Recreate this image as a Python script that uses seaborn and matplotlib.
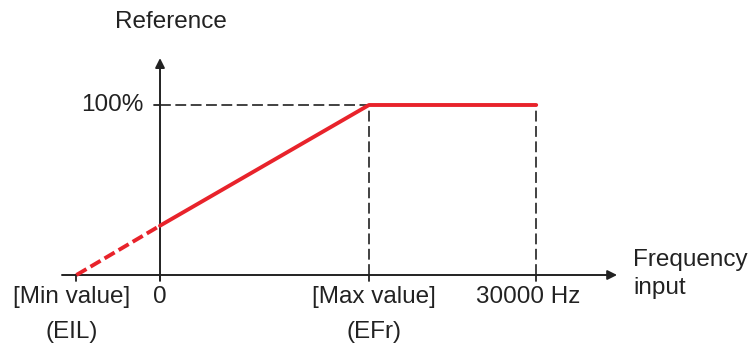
import numpy as np
import pandas as pd
import matplotlib.pyplot as plt
import seaborn as sns

# Reference curve (x in units of [Max value], y in %)
ramp_x = [-0.4, 0.0]
ramp_y = [0.0, 29.0]
curve_x = [0.0, 1.0, 1.8]
curve_y = [29.0, 100.0, 100.0]

tick_pos = [-0.4, 0.0, 1.0, 1.8]
tick_top = ['[Min value]', '0', '[Max value]', '30000 Hz']
tick_bottom = ['(EIL)', '', '(EFr)', '']
tick_shift = [-0.021, 0.0, 0.024, -0.039]

sns.set_style('white')
plt.rcParams['font.family'] = ['Liberation Sans', 'DejaVu Sans']

fig = plt.figure(figsize=(7.52, 3.43), dpi=100)
ax = fig.add_axes([0, 0, 1, 1])
ax.set_xlim(-0.7656, 2.8325)
ax.set_ylim(-40, 161.76)
ax.axis('off')

red = '#e8232b'
ramp = pd.DataFrame({'x': ramp_x, 'y': ramp_y})
curve = pd.DataFrame({'x': curve_x, 'y': curve_y})
sns.lineplot(data=ramp, x='x', y='y', ax=ax, color=red, lw=2.8,
             linestyle=(0, (3, 1.2)), zorder=4)
sns.lineplot(data=curve, x='x', y='y', ax=ax, color=red, lw=2.8, zorder=4)

# dashed guide lines
dash = dict(color='#333333', lw=1.3, linestyle=(0, (6, 2.5)), zorder=2)
ax.plot([0, 1], [100, 100], **dash)
ax.plot([1, 1], [0, 100], **dash)
ax.plot([1.8, 1.8], [0, 100], **dash)

# axes with arrows
arrow = dict(arrowstyle='-|>', color='#222222', lw=1.4, mutation_scale=14,
             shrinkA=0, shrinkB=0)
ax.annotate('', xy=(2.187, 0), xytext=(-0.469, 0), arrowprops=arrow)
ax.annotate('', xy=(0, 127.6), xytext=(0, -3), arrowprops=arrow)

# tick marks
for p in tick_pos:
    ax.plot([p, p], [0, -3.5], color='#222222', lw=1.3)
ax.plot([-0.03, 0], [100, 100], color='#222222', lw=1.3)

fs = 17.5
ax.text(0.053, 148.8, 'Reference', ha='center', va='center', fontsize=fs, color='#222222')
ax.text(-0.081, 100, '100%', ha='right', va='center', fontsize=fs, color='#222222')
for p, t, b, s in zip(tick_pos, tick_top, tick_bottom, tick_shift):
    ax.text(p + s, -13.2, t, ha='center', va='center', fontsize=fs, color='#222222')
    if b:
        ax.text(p + s, -33.5, b, ha='center', va='center', fontsize=fs, color='#222222')
ax.text(2.263, 8.8, 'Frequency', ha='left', va='center', fontsize=fs, color='#222222')
ax.text(2.263, -7.6, 'input', ha='left', va='center', fontsize=fs, color='#222222')

fig.savefig('out.png', dpi=100)
